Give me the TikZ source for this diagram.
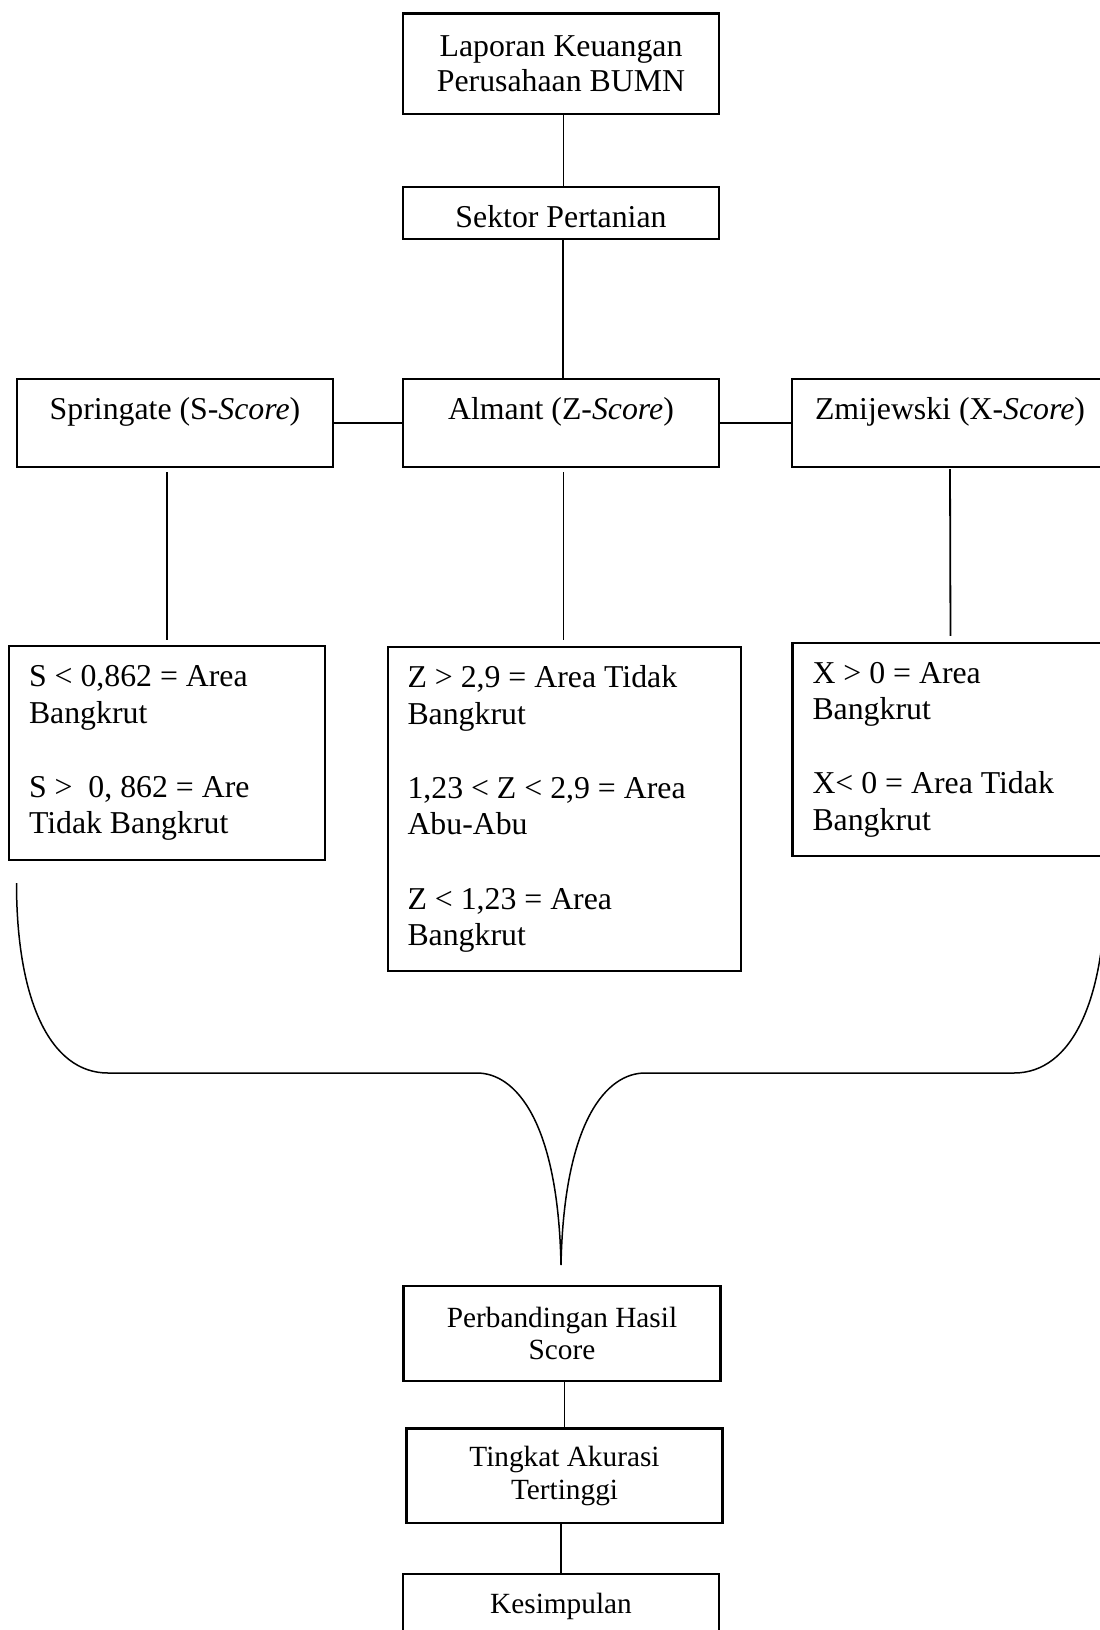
\documentclass[tikz,border=0pt]{standalone}
\usepackage{fontspec}
\setmainfont{Liberation Serif}
\begin{document}
\begin{tikzpicture}[x=1pt,y=-1pt,
  box/.style={draw, line width=2.2pt, inner sep=0pt, minimum width=316pt},
  big/.style={font=\fontsize{31.8}{35.5}\selectfont},
  small/.style={font=\fontsize{29.3}{32.5}\selectfont},
  title/.style={box, big, minimum height=88pt, text height=25.4pt, text depth=31.8pt},
  crit/.style={box, font=\fontsize{31.8}{36.3}\selectfont, align=flush left, inner xsep=20pt, inner ysep=0pt, text width=276pt},
  conn/.style={line width=1.8pt},
  brace/.style={line width=1.5pt}]
\useasboundingbox (0,0) rectangle (1100,1630);
\fill[white] (0,0) rectangle (1100,1630);
\clip (0,0) rectangle (1100,1630);

% top chain
\node[box, big, align=center, minimum height=100.5pt] (lap) at (561,63.75) {Laporan Keuangan\\Perusahaan BUMN};
\node[box, big, minimum height=52pt, text height=28pt, text depth=0pt] (sek) at (561,213) {Sektor Pertanian};

% methods
\node[title] (spr) at (175,423) {Springate (S-\textit{Score})};
\node[title] (alm) at (561,423) {Almant (Z-\textit{Score})};
\node[title] (zmi) at (950,423) {Zmijewski (X-\textit{Score})};

% criteria
\node[crit, minimum height=214pt] (sbox) at (167,753)
  {S < 0,862 = Area\\Bangkrut\\[38pt]S >\ \ 0, 862 = Are\\Tidak Bangkrut};
\node[crit, text width=314pt, inner xsep=19.5pt, minimum height=324pt] (zbox) at (564.5,809)
  {Z > 2,9 = Area Tidak\\Bangkrut\\[38pt]1,23 < Z < 2,9 = Area\\Abu-Abu\\[38pt]Z < 1,23 = Area\\Bangkrut};
\node[crit, minimum height=213pt] (xbox) at (950.5,749.5)
  {X > 0 = Area\\Bangkrut\\[38pt]X< 0 = Area Tidak\\Bangkrut};

% bottom chain
\node[box, small, align=center, minimum width=317pt, minimum height=95pt] (perb) at (562,1333.5) {Perbandingan Hasil\\Score};
\node[box, small, align=center, minimum height=94.5pt] (ting) at (564.5,1475.75) {Tingkat Akurasi\\Tertinggi};
\node[box, small, minimum height=64pt] (kes) at (561,1606) {Kesimpulan};

% connectors
\draw[conn] ([xshift=2.5pt]lap.south) -- ([xshift=2.5pt]sek.north);
\draw[conn] ([xshift=2pt]sek.south) -- ([xshift=2pt]alm.north);
\draw[conn] (spr.east) -- (alm.west);
\draw[conn] (alm.east) -- (zmi.west);
\draw[conn, shorten <=4pt, shorten >=5pt] (spr.south -| sbox.north) -- (sbox.north);
\draw[conn, shorten <=4pt, shorten >=6pt] ([xshift=2.5pt]alm.south) -- ([xshift=2.5pt]alm.south |- zbox.north);
\draw[conn, shorten <=1pt, shorten >=6pt] (zmi.south) -- (xbox.north);
\draw[conn] (perb.south -| ting.north) -- (ting.north);
\draw[conn] (ting.south -| kes.north) -- (kes.north);

% brace
\draw[brace] (16.5,883) .. controls (16.5,1000) and (50,1073) .. (108,1073)
  -- (477,1073) .. controls (515,1073) and (558,1120) .. (561,1265)
  .. controls (564,1120) and (607,1073) .. (645,1073)
  -- (1014,1073) .. controls (1072,1073) and (1105.5,1000) .. (1105.5,883);
\end{tikzpicture}
\end{document}
